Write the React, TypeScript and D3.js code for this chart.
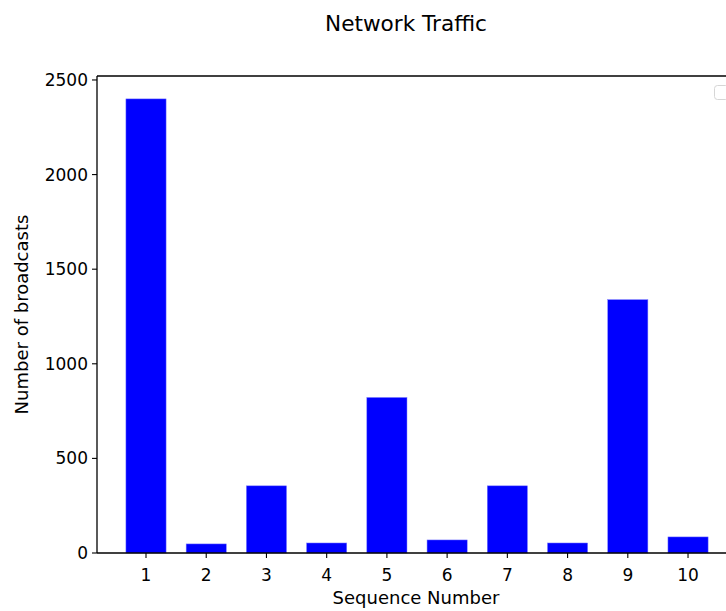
import React from "react";
import * as d3 from "d3";

const categories: number[] = [1, 2, 3, 4, 5, 6, 7, 8, 9, 10];
const broadcasts: number[] = [2400, 48, 355, 53, 822, 69, 355, 53, 1339, 85];
const yTicks: number[] = [0, 500, 1000, 1500, 2000, 2500];

export default function App() {
  const W = 726, H = 611;
  const left = 97, right = 735, top = 76, bottom = 553;
  const barW = 0.667;
  const x = d3.scaleLinear().domain([0.1863, 10.78]).range([left, right]);
  const y = d3.scaleLinear().domain([0, 2521]).range([bottom, top]);
  const font = "DejaVu Sans, sans-serif";
  return (
    <svg width={W} height={H} style={{ position: "absolute", left: 0, top: 0, background: "#fff" }}>
      <rect x={0} y={0} width={W} height={H} fill="#fff" />
      <text x={406} y={31} textAnchor="middle" fontFamily={font} fontSize={21.6} fill="#000">Network Traffic</text>
      {categories.map((c, i) => (
        <rect key={c} x={x(c - barW / 2)} y={y(broadcasts[i])} width={x(c + barW / 2) - x(c - barW / 2)}
          height={y(0) - y(broadcasts[i])} fill="#0000ff" stroke="#7f7fff" strokeWidth={0.5} />
      ))}
      <line x1={left} x2={left} y1={top} y2={bottom} stroke="#000" strokeWidth={1.3} />
      <line x1={left} x2={right} y1={bottom} y2={bottom} stroke="#000" strokeWidth={1.3} />
      <line x1={left} x2={right} y1={top} y2={top} stroke="#000" strokeWidth={1.3} />
      <line x1={right} x2={right} y1={top} y2={bottom} stroke="#000" strokeWidth={1.3} />
      {yTicks.map(t => (
        <g key={t}>
          <line x1={left - 5} x2={left} y1={y(t)} y2={y(t)} stroke="#000" strokeWidth={1.1} />
          <text x={left - 9} y={y(t)} dy="0.35em" textAnchor="end" fontFamily={font} fontSize={17} fill="#000">{t}</text>
        </g>
      ))}
      {categories.map(c => (
        <g key={c}>
          <line x1={x(c)} x2={x(c)} y1={bottom} y2={bottom + 5} stroke="#000" strokeWidth={1.1} />
          <text x={x(c)} y={bottom + 22} dy="0.35em" textAnchor="middle" fontFamily={font} fontSize={17} fill="#000">{c}</text>
        </g>
      ))}
      <text x={416} y={598} dy="0.35em" textAnchor="middle" fontFamily={font} fontSize={18} fill="#000">Sequence Number</text>
      <text transform={`translate(22,${(top + bottom) / 2}) rotate(-90)`} dy="0.35em" textAnchor="middle" fontFamily={font} fontSize={18} fill="#000">Number of broadcasts</text>
      <rect x={714.5} y={85.5} width={14} height={14} rx={3} fill="#fff" fillOpacity={0.8} stroke="#d6d6d6" strokeWidth={1} />
    </svg>
  );
}
